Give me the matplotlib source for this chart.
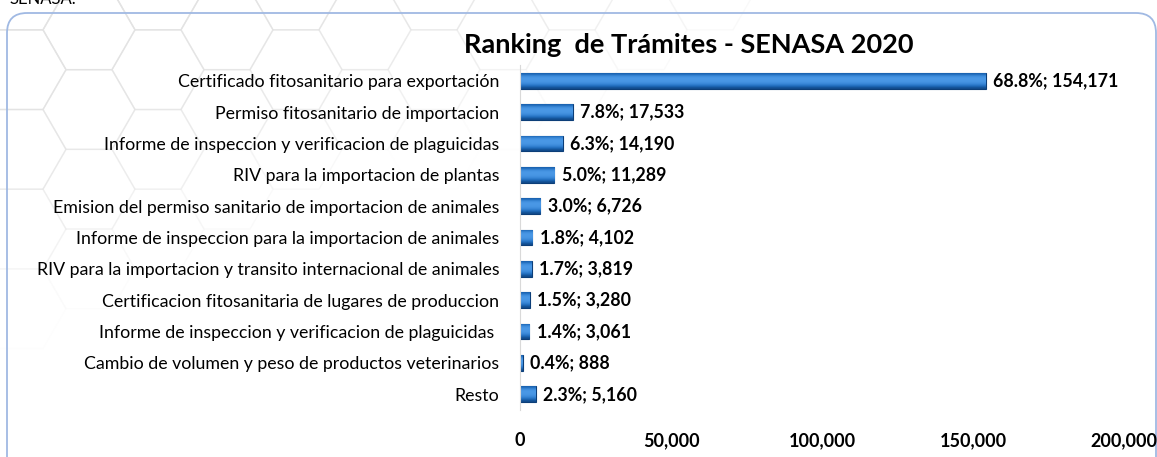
import matplotlib
matplotlib.use("Agg")
import matplotlib.pyplot as plt
import numpy as np
from matplotlib.patches import FancyBboxPatch, RegularPolygon
from matplotlib.colors import LinearSegmentedColormap
from matplotlib.ticker import FuncFormatter

plt.rcParams['font.family'] = ['Lato', 'DejaVu Sans']

tramites = [
    "Certificado fitosanitario para exportación",
    "Permiso fitosanitario de importacion",
    "Informe de inspeccion y verificacion de plaguicidas",
    "RIV para la importacion de plantas",
    "Emision del permiso sanitario de importacion de animales",
    "Informe de inspeccion para la importacion de animales",
    "RIV para la importacion y transito internacional de animales",
    "Certificacion fitosanitaria de lugares de produccion",
    "Informe de inspeccion y verificacion de plaguicidas ",
    "Cambio de volumen y peso de productos veterinarios",
    "Resto",
]
cantidades = [154171, 17533, 14190, 11289, 6726, 4102, 3819, 3280, 3061, 888, 5160]
porcentajes = [68.8, 7.8, 6.3, 5.0, 3.0, 1.8, 1.7, 1.5, 1.4, 0.4, 2.3]

W, H = 1157, 457
fig = plt.figure(figsize=(W / 100, H / 100), dpi=100)

# background canvas in pixel units: faint hexagons + rounded frame
bg = fig.add_axes([0, 0, 1, 1])
bg.set_xlim(0, W)
bg.set_ylim(H, 0)
bg.axis('off')

r = 46
for col in range(-1, 18):
    for row in range(-1, 6):
        cx = col * 1.5 * r + 20
        cy = row * np.sqrt(3) * r + (col % 2) * np.sqrt(3) / 2 * r - 10
        fade = 1 - cx / 820 - cy / 330
        if fade <= 0:
            continue
        bg.add_patch(RegularPolygon((cx, cy), 6, radius=r, orientation=np.pi / 6,
                                    fill=False, lw=1.0,
                                    edgecolor=(0.89, 0.89, 0.89, min(1.0, fade * 1.2))))

bg.add_patch(FancyBboxPatch((7, 13), 1149, 470, boxstyle="round,pad=0,rounding_size=20",
                            facecolor='none', edgecolor='#a0b9e3', lw=1.3))

fig.text(10 / W, 1 - 4 / H, "SENASA.", fontsize=12, va='baseline', ha='left', color='black')

ax = fig.add_axes([520 / W, 1 - 410 / H, (1124 - 520) / W, (410 - 65) / H])
ax.patch.set_alpha(0)

y = np.arange(len(tramites))
bars = ax.barh(y, cantidades, height=0.5, color='#1d6cbf', edgecolor='#0c3e78', lw=0.8)

grad = np.array([0.6, 0.25, 0.05, 0.0, 0.0, 0.05, 0.15, 0.35, 0.6, 0.85]).reshape(-1, 1)
cmap = LinearSegmentedColormap.from_list('bev', ['#4a98e6', '#1d6cbf', '#0b3a72'])
for b in bars:
    x0, y0 = b.get_x(), b.get_y()
    w, h = b.get_width(), b.get_height()
    im = ax.imshow(grad, cmap=cmap, vmin=0, vmax=1, aspect='auto',
                   extent=(x0, x0 + w, y0 + h, y0), interpolation='bicubic', zorder=2)
    im.set_clip_path(b)

for yi, v, p in zip(y, cantidades, porcentajes):
    ax.text(v + 2500, yi, f"{p:.1f}%; {v:,}", va='center', ha='left',
            fontsize=12.8, fontweight='bold', color='black', zorder=3)

ax.set_xlim(0, 200000)
ax.set_ylim(len(tramites) - 0.5, -0.5)
ax.set_xticks([0, 50000, 100000, 150000, 200000])
ax.xaxis.set_major_formatter(FuncFormatter(lambda v, _: f"{int(v):,}"))
ax.set_yticks(y)
ax.set_yticklabels(tramites, fontsize=12.8)
ax.tick_params(axis='both', length=0)
ax.tick_params(axis='y', pad=15)
ax.tick_params(axis='x', pad=16)
for lab in ax.get_xticklabels():
    lab.set_fontweight('bold')
    lab.set_fontsize(13)
for s in ['top', 'right', 'bottom']:
    ax.spines[s].set_visible(False)
ax.spines['left'].set_color('#d9d9d9')

fig.text(689 / W, 1 - 45 / H, "Ranking  de Trámites - SENASA 2020", fontsize=19.5,
         fontweight='bold', ha='center', va='center')

fig.savefig("out.png", dpi=100)
